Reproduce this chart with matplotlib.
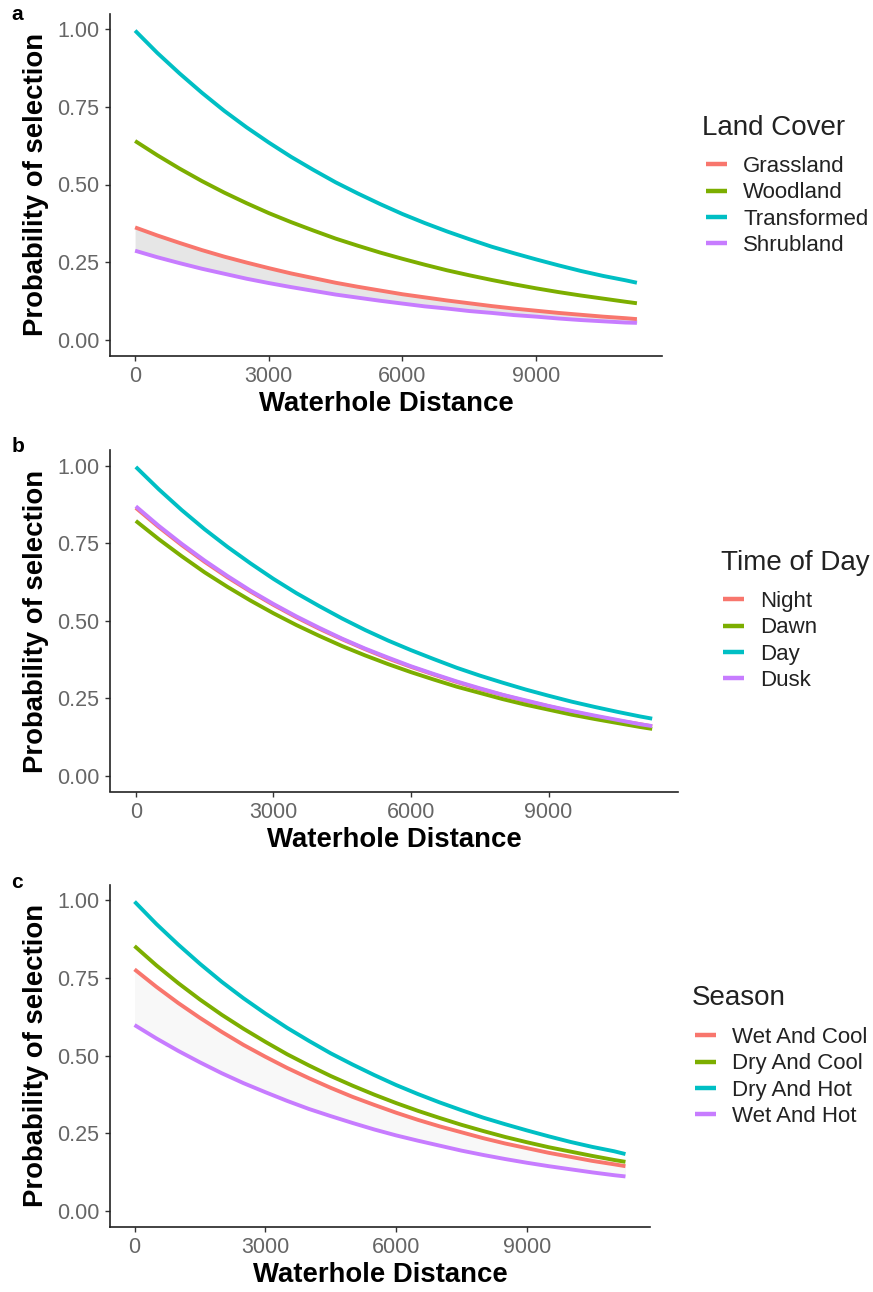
import matplotlib
matplotlib.use("Agg")
import matplotlib.pyplot as plt
from matplotlib.ticker import FixedLocator, FuncFormatter

plt.rcParams['font.family'] = ['Liberation Sans', 'DejaVu Sans']

# Distance to waterhole (m)
distance = list(range(0, 11001, 500)) + [11260]

# Panel a: land cover
land_labels = ["Grassland", "Woodland", "Transformed", "Shrubland"]
grassland = [0.362, 0.336, 0.312, 0.289, 0.268, 0.249, 0.231, 0.214, 0.199, 0.184, 0.171, 0.159,
             0.147, 0.137, 0.127, 0.118, 0.109, 0.101, 0.094, 0.087, 0.081, 0.075, 0.070, 0.067]
woodland = [0.640, 0.594, 0.551, 0.511, 0.474, 0.440, 0.408, 0.379, 0.352, 0.326, 0.303, 0.281,
            0.261, 0.242, 0.224, 0.208, 0.193, 0.179, 0.166, 0.154, 0.143, 0.133, 0.123, 0.118]
transformed = [0.995, 0.923, 0.857, 0.795, 0.737, 0.684, 0.635, 0.589, 0.547, 0.507, 0.471, 0.437,
               0.405, 0.376, 0.349, 0.324, 0.300, 0.279, 0.259, 0.240, 0.222, 0.206, 0.192, 0.184]
shrubland = [0.287, 0.266, 0.247, 0.229, 0.213, 0.197, 0.183, 0.170, 0.158, 0.146, 0.136, 0.126,
             0.117, 0.108, 0.101, 0.093, 0.087, 0.080, 0.075, 0.069, 0.064, 0.060, 0.056, 0.055]

# Panel b: time of day
time_labels = ["Night", "Dawn", "Day", "Dusk"]
night = [0.865, 0.803, 0.745, 0.691, 0.641, 0.595, 0.552, 0.512, 0.475, 0.441, 0.409, 0.379,
         0.352, 0.327, 0.303, 0.281, 0.261, 0.242, 0.225, 0.208, 0.193, 0.179, 0.167, 0.160]
dawn = [0.823, 0.764, 0.709, 0.657, 0.610, 0.566, 0.525, 0.487, 0.452, 0.419, 0.389, 0.361,
        0.335, 0.311, 0.288, 0.268, 0.248, 0.230, 0.214, 0.198, 0.184, 0.171, 0.158, 0.152]
day = [0.997, 0.925, 0.858, 0.796, 0.739, 0.686, 0.636, 0.590, 0.548, 0.508, 0.471, 0.437,
       0.406, 0.377, 0.349, 0.324, 0.301, 0.279, 0.259, 0.240, 0.223, 0.207, 0.192, 0.185]
dusk = [0.870, 0.807, 0.749, 0.695, 0.645, 0.598, 0.555, 0.515, 0.478, 0.443, 0.411, 0.382,
        0.354, 0.329, 0.305, 0.283, 0.262, 0.244, 0.226, 0.210, 0.195, 0.181, 0.167, 0.161]

# Panel c: season
season_labels = ["Wet And Cool", "Dry And Cool", "Dry And Hot", "Wet And Hot"]
wet_cool = [0.777, 0.721, 0.669, 0.621, 0.576, 0.534, 0.496, 0.460, 0.427, 0.396, 0.367, 0.341,
            0.316, 0.293, 0.272, 0.253, 0.234, 0.217, 0.202, 0.187, 0.174, 0.161, 0.150, 0.144]
dry_cool = [0.852, 0.790, 0.733, 0.680, 0.631, 0.586, 0.544, 0.504, 0.468, 0.434, 0.403, 0.374,
            0.347, 0.322, 0.299, 0.277, 0.257, 0.238, 0.221, 0.205, 0.191, 0.177, 0.164, 0.158]
dry_hot = [0.995, 0.923, 0.857, 0.795, 0.737, 0.684, 0.635, 0.589, 0.547, 0.507, 0.471, 0.437,
           0.405, 0.376, 0.349, 0.324, 0.300, 0.279, 0.259, 0.240, 0.222, 0.206, 0.192, 0.183]
wet_hot = [0.598, 0.555, 0.515, 0.478, 0.443, 0.411, 0.382, 0.354, 0.328, 0.305, 0.283, 0.262,
           0.243, 0.226, 0.210, 0.194, 0.180, 0.167, 0.155, 0.144, 0.134, 0.124, 0.115, 0.111]

x_ticks = [0, 3000, 6000, 9000]
y_ticks = [0.0, 0.25, 0.50, 0.75, 1.00]

colors = ["#F8766D", "#7CAE00", "#00BFC4", "#C77CFF"]

W, H = 873, 1292
fig = plt.figure(figsize=(W / 100, H / 100), dpi=100)


def px_axes(left, top, right, bottom):
    return fig.add_axes([left / W, 1 - bottom / H, (right - left) / W, (bottom - top) / H])


panels = [
    dict(box=(110, 13.5, 662, 355.5), letter="a", letter_xy=(17, 15),
         series=[grassland, woodland, transformed, shrubland], labels=land_labels,
         title="Land Cover", title_xy=(702, 128), leg_xy=(706, 168), ribbon=0.45),
    dict(box=(110, 450.5, 678, 791.5), letter="b", letter_xy=(18, 447),
         series=[night, dawn, day, dusk], labels=time_labels,
         title="Time of Day", title_xy=(721, 563), leg_xy=(723, 603), ribbon=None),
    dict(box=(110, 884.5, 650, 1226.5), letter="c", letter_xy=(17, 882),
         series=[wet_cool, dry_cool, dry_hot, wet_hot], labels=season_labels,
         title="Season", title_xy=(692, 998), leg_xy=(695, 1039), ribbon=0.12),
]

xmax = distance[-1]
for p in panels:
    ax = px_axes(*p["box"])
    s = p["series"]
    if p["ribbon"] is not None:
        ax.fill_between(distance, s[3], s[0], color="#c8c8c8", alpha=p["ribbon"],
                        linewidth=0, zorder=1)
    handles = []
    for vals, c, lab in zip(s, colors, p["labels"]):
        h, = ax.plot(distance, vals, color=c, lw=2.8, solid_capstyle="butt",
                     solid_joinstyle="round", label=lab, zorder=2)
        handles.append(h)
    ax.set_xlim(-0.05 * xmax, 1.05 * xmax)
    ax.set_ylim(-0.05, 1.05)
    ax.xaxis.set_major_locator(FixedLocator(x_ticks))
    ax.yaxis.set_major_locator(FixedLocator(y_ticks))
    ax.yaxis.set_major_formatter(FuncFormatter(lambda v, _: f"{v:.2f}"))
    ax.xaxis.set_major_formatter(FuncFormatter(lambda v, _: f"{int(v)}"))
    for side in ("top", "right"):
        ax.spines[side].set_visible(False)
    for side in ("left", "bottom"):
        ax.spines[side].set_linewidth(1.2)
        ax.spines[side].set_color("#222222")
    ax.tick_params(axis="both", direction="out", length=3.5, width=1.0,
                   color="#333333", labelsize=15.5, labelcolor="#666666", pad=4)
    ax.set_xlabel("Waterhole Distance", fontsize=19.8, fontweight="bold",
                  color="black", labelpad=3)
    ax.set_ylabel("Probability of selection", fontsize=19.8, fontweight="bold",
                  color="black", labelpad=6)
    lx, ly = p["letter_xy"]
    fig.text(lx / W, 1 - ly / H, p["letter"], fontsize=15, fontweight="bold",
             ha="center", va="center")
    tx, ty = p["title_xy"]
    fig.text(tx / W, 1 - ty / H, p["title"], fontsize=20, color="#222222",
             ha="left", va="center")
    gx, gy = p["leg_xy"]
    leg = fig.legend(handles=handles, labels=p["labels"], loc="upper left",
                     bbox_to_anchor=(gx / W, 1 - (gy - 12) / H), frameon=False,
                     fontsize=16, handlelength=0.95, handletextpad=0.72,
                     labelspacing=0.24, borderpad=0, borderaxespad=0)
    for t in leg.get_texts():
        t.set_color("#222222")
    for lh in leg.legend_handles:
        lh.set_linewidth(3.2)

fig.savefig("out.png", dpi=100)
